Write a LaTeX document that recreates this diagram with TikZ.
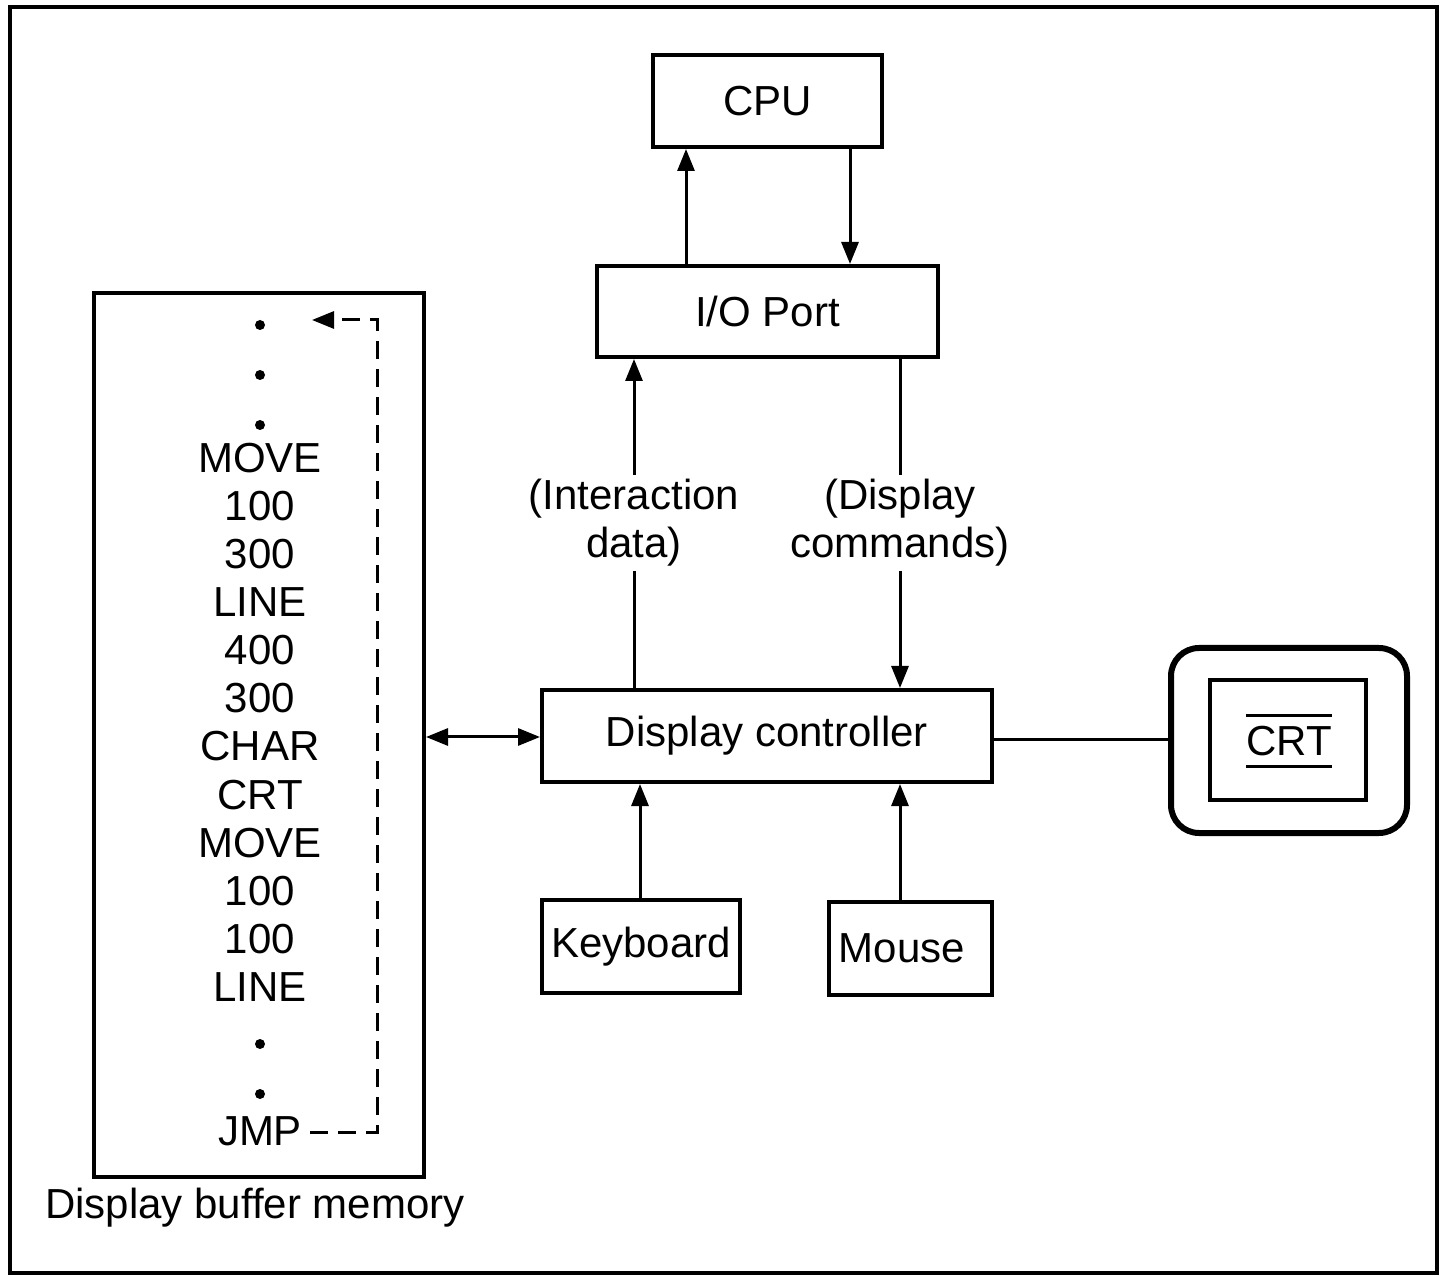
\documentclass[tikz,border=0pt]{standalone}
\usepackage{fontspec}
\setmainfont{Liberation Sans}
\usetikzlibrary{arrows.meta}
\begin{document}
\begin{tikzpicture}[x=0.5pt,y=-0.5pt,
  every node/.style={font=\fontsize{21}{24}\selectfont},
  box/.style={draw, line width=2pt, inner sep=0pt, align=center},
  tip/.style={},
  arr/.style={line width=1.5pt, -{Triangle[length=11pt,width=8.5pt]}},
  dblarr/.style={line width=1.5pt, {Triangle[length=11pt,width=8.5pt]}-{Triangle[length=11pt,width=8.5pt]}},
  link/.style={line width=1.5pt},
  listitem/.style={anchor=base, inner sep=0pt},
  dot/.style={fill=black}
]
\useasboundingbox (0,0) rectangle (1440,1277);
% outer frame
\draw[line width=2pt] (10,7) rectangle (1437,1273);

% blocks
\node[box, minimum width=114.5pt, minimum height=46pt] (cpu) at (767.5,101) {CPU};
\node[box, minimum width=170.5pt, minimum height=45.5pt] (io) at (767.5,311.5) {I/O Port};
\node[box, minimum width=225pt, minimum height=46pt] (dc) at (767,736) {Display controller};
\node[box, minimum width=99pt, minimum height=46.5pt] (kbd) at (641,946.5) {Keyboard};
\node[box, minimum width=81.5pt, minimum height=46.5pt] (mouse) at (910.5,948.5) {};
\node[inner sep=0pt] (mouselbl) at (902,948.5) {Mouse};
\node[box, minimum width=165pt, minimum height=442pt] (buf) at (259,735) {};
\node[inner sep=0pt] (buflbl) at (255,1208) {Display buffer memory};

% CRT monitor
\node[draw, line width=3pt, rounded corners=14pt, minimum width=118pt, minimum height=92.5pt] (crt) at (1289,740.5) {};
\node[draw, line width=1.8pt, minimum width=78pt, minimum height=60pt] (screen) at (1288,740) {};
\node[inner sep=0pt] (crtlbl) at (1289,741) {CRT};
\draw[line width=1.5pt] ([yshift=5pt]crtlbl.north west) -- ([yshift=5pt]crtlbl.north east);
\draw[line width=1.5pt] ([yshift=-5pt]crtlbl.south west) -- ([yshift=-5pt]crtlbl.south east);

% column positions of the vertical connectors
\coordinate (xup) at (686,0);
\coordinate (xdown) at (850,0);
\coordinate (xint) at (634,0);
\coordinate (xcmd) at (900,0);
\coordinate (xkbd) at (640,0);
\coordinate (xmouse) at (900,0);
\coordinate (ylink) at (0,740);
\coordinate (ybus) at (0,737);

% CPU <-> I/O port
\draw[arr] (io.north -| xup) -- (cpu.south -| xup);
\draw[arr] (cpu.south -| xdown) -- (io.north -| xdown);

% I/O port <-> display controller
\draw[arr] (dc.north -| xint) -- (io.south -| xint);
\draw[arr] (io.south -| xcmd) -- (dc.north -| xcmd);
\node[fill=white, align=center, inner sep=2pt] (intlbl) at (634,523) {(Interaction\\data)};
\node[fill=white, align=center, inner sep=2pt] (cmdlbl) at (900,523) {(Display\\commands)};

% input devices
\draw[arr] (kbd.north -| xkbd) -- (dc.south -| xkbd);
\draw[arr] (mouse.north -| xmouse) -- (dc.south -| xmouse);

% display controller to CRT, buffer memory
\draw[link] (dc.east |- ylink) -- (crt.west |- ylink);
\draw[dblarr] (buf.east |- ybus) -- (dc.west |- ybus);

% display file contents
\foreach \nm/\txt/\yy in {l1/MOVE/473, l2/100/521, l3/300/569, l4/LINE/617, l5/400/665,
    l6/300/713, l7/CHAR/761, l8/CRT/809, l9/MOVE/857, l10/100/905, l11/100/953, l12/LINE/1001}
  \node[listitem] (\nm) at (260,\yy) {\txt};
\node[listitem] (jmp) at (260,1145) {JMP};
\foreach \yy in {325,375,425,1044,1094}
  \fill[dot] (260,\yy) circle[radius=5];

% jump back to the start of the display file
\coordinate (jr) at (377,1132);
\coordinate (jt) at (377,320);
\coordinate (jend) at (312,320);
\draw[line width=1.5pt, dash pattern=on 9pt off 5pt, -{Triangle[length=11pt,width=8.5pt]}]
  ([xshift=4pt]jmp.east |- jr) -- (jr) -- (jt) -- (jend);
\end{tikzpicture}
\end{document}
